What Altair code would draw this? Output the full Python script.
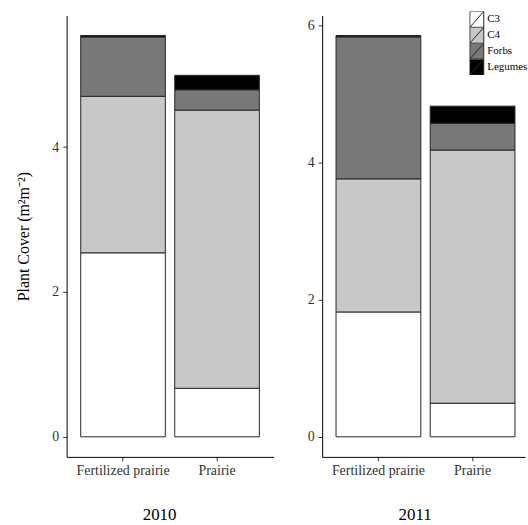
import altair as alt
import pandas as pd

# Plant functional groups, stacked bottom to top
types = ["C3", "C4", "Forbs", "Legumes"]
fills = ["#ffffff", "#c8c8c8", "#787878", "#000000"]
groups = ["Fertilized prairie", "Prairie"]

# Cover (m2 m-2) per functional group, in the order of `types`
fert_2010 = [2.54, 2.16, 0.82, 0.02]
prairie_2010 = [0.67, 3.84, 0.28, 0.20]
fert_2011 = [1.82, 1.94, 2.07, 0.02]
prairie_2011 = [0.49, 3.69, 0.39, 0.25]

ticks_2010 = [0, 2, 4]
ticks_2011 = [0, 2, 4, 6]

SERIF = "Liberation Serif"


def frame(fert, prairie):
    rows = []
    for g, vals in zip(groups, [fert, prairie]):
        for i, (t, v) in enumerate(zip(types, vals)):
            rows.append({"group": g, "type": t, "cover": v, "ord": i})
    return pd.DataFrame(rows)


def panel(df, year, ticks, width, y_title, legend, x_scale):
    top = df.groupby("group")["cover"].sum().max()
    y_scale = alt.Scale(domain=[-0.05 * top, 1.05 * top], nice=False, zero=False)
    return (
        alt.Chart(df)
        .mark_bar(stroke="#262626", strokeWidth=1)
        .encode(
            x=alt.X(
                "group:N",
                sort=groups,
                scale=x_scale,
                axis=alt.Axis(
                    title=year,
                    labelAngle=0,
                    titleX=93,
                    titleAlign="center",
                    titlePadding=29,
                ),
            ),
            y=alt.Y(
                "cover:Q",
                stack="zero",
                scale=y_scale,
                axis=alt.Axis(values=ticks, title=y_title, titlePadding=20),
            ),
            color=alt.Color(
                "type:N",
                scale=alt.Scale(domain=types, range=fills),
                legend=legend,
            ),
            order=alt.Order("ord:Q", sort="ascending"),
        )
        .properties(width=width, height=444)
    )


# legend key: outlined box crossed by a diagonal stroke
key_shape = "M-1,-1.143H1V1.143H-1Z M-1,1.143L1,-1.143"

legend = alt.Legend(
    title=None,
    orient="none",
    legendX=148,
    legendY=-4,
    padding=0,
    rowPadding=0,
    clipHeight=16,
    symbolType=key_shape,
    symbolSize=196,
    symbolStrokeColor="#262626",
    symbolStrokeWidth=1,
    symbolOpacity=1,
    labelFont=SERIF,
    labelFontSize=11,
    labelColor="#000000",
    labelOffset=3,
)

left = panel(
    frame(fert_2010, prairie_2010), "2010", ticks_2010, 208,
    "Plant Cover (m²m⁻²)", None,
    alt.Scale(paddingInner=0.1, paddingOuter=0.15),
)
right = panel(
    frame(fert_2011, prairie_2011), "2011", ticks_2011, 204,
    None, legend,
    alt.Scale(paddingInner=0.1, paddingOuter=0.127, align=0.58),
)

chart = (
    alt.hconcat(left, right, spacing=34)
    .resolve_scale(y="independent")
    .resolve_legend(color="independent")
    .properties(padding={"left": 16, "top": 10, "right": 0, "bottom": 0})
    .configure_view(stroke=None)
    .configure_axis(
        grid=False,
        domainColor="#000000",
        domainWidth=1,
        tickColor="#333333",
        tickSize=4,
        labelFont=SERIF,
        labelFontSize=14,
        labelColor="#333333",
        labelPadding=4,
        titleFont=SERIF,
        titleFontSize=16,
        titleFontWeight="normal",
        titleColor="#000000",
    )
    .configure_axisX(titleFontSize=17, labelPadding=3)
)

chart.save("out.html", embed_options={"renderer": "svg", "actions": False})
